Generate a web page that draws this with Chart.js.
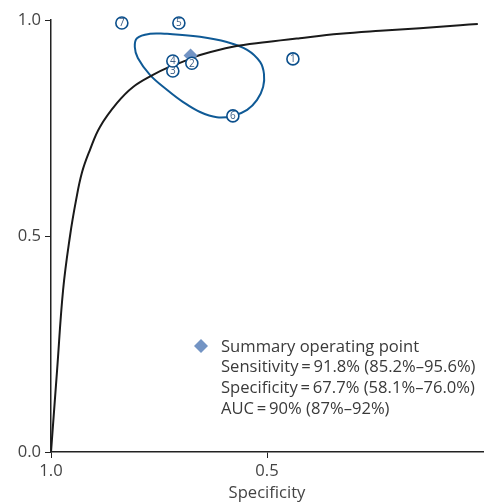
<!DOCTYPE html>
<html>
<head>
<meta charset="utf-8">
<script src="https://cdn.jsdelivr.net/npm/chart.js@4"></script>
<style>
  html, body { margin: 0; padding: 0; background: #fff; }
  canvas { display: block; }
</style>
</head>
<body>
<canvas id="sroc" width="492" height="503"></canvas>
<script>
// ===== Data =====
const studyIds = ["1", "2", "3", "4", "5", "6", "7"];
const studySpec = [0.440, 0.674, 0.718, 0.718, 0.704, 0.579, 0.836];
const studySens = [0.910, 0.900, 0.882, 0.905, 0.993, 0.778, 0.993];

const summarySpec = [0.677];
const summarySens = [0.918];

// SROC curve
const srocSpec = [1, 0.986, 0.972, 0.956, 0.942, 0.928, 0.910, 0.887, 0.847, 0.810, 0.764,
  0.731, 0.685, 0.655, 0.579, 0.5, 0.424, 0.331, 0.238, 0.146, 0.053, 0.012];
const srocSens = [0, 0.188, 0.375, 0.5, 0.583, 0.648, 0.699, 0.752, 0.808, 0.845, 0.873,
  0.889, 0.907, 0.919, 0.938, 0.949, 0.958, 0.968, 0.975, 0.981, 0.988, 0.991];

// 95% confidence region outline (closed loop, starts at its top edge)
const regionSpec = [0.731, 0.655, 0.593, 0.546, 0.516, 0.507, 0.509, 0.523,
  0.546, 0.579, 0.616, 0.655, 0.694, 0.731, 0.771, 0.799, 0.806, 0.801, 0.771, 0.731];
const regionSens = [0.968, 0.961, 0.949, 0.931, 0.903, 0.875, 0.845, 0.815,
  0.792, 0.778, 0.775, 0.787, 0.810, 0.838, 0.873, 0.912, 0.9375, 0.958, 0.968, 0.968];

const xTicks = [1, 0.5];
const yTicks = [0, 0.5, 1];

const noteLines = [
  "Summary operating point",
  "Sensitivity\u2009=\u200991.8% (85.2%\u201395.6%)",
  "Specificity\u2009=\u200967.7% (58.1%\u201376.0%)",
  "AUC\u2009=\u200990% (87%\u201392%)"
];

const toPts = (xs, ys) => xs.map((x, i) => ({ x: x, y: ys[i] }));

// ===== Plugins =====
const studyLabels = {
  id: "studyLabels",
  afterDatasetsDraw(chart) {
    const ctx = chart.ctx;
    const meta = chart.getDatasetMeta(0);
    ctx.save();
    ctx.font = "10px 'Open Sans'";
    ctx.fillStyle = "#3d5f86";
    ctx.textAlign = "center";
    ctx.textBaseline = "middle";
    meta.data.forEach((pt, i) => {
      ctx.fillText(studyIds[i], pt.x, pt.y + 0.5);
    });
    ctx.restore();
  }
};

const summaryNote = {
  id: "summaryNote",
  afterDraw(chart) {
    const ctx = chart.ctx;
    ctx.save();
    // diamond marker
    ctx.fillStyle = "#7394c4";
    ctx.beginPath();
    ctx.moveTo(201, 339);
    ctx.lineTo(208, 346);
    ctx.lineTo(201, 353);
    ctx.lineTo(194, 346);
    ctx.closePath();
    ctx.fill();
    ctx.font = "16.6px 'Open Sans'";
    ctx.fillStyle = "#3a3a3a";
    ctx.textBaseline = "middle";
    noteLines.forEach((line, i) => {
      ctx.fillText(line, 221, 347 + i * 20.7);
    });
    ctx.restore();
  }
};

// ===== Chart =====
const axisColor = "#222";
new Chart(document.getElementById("sroc"), {
  type: "scatter",
  data: {
    datasets: [
      {
        label: "Studies",
        data: toPts(studySpec, studySens),
        pointRadius: 6,
        pointBorderWidth: 1.6,
        pointBorderColor: "#0b4f8c",
        pointBackgroundColor: "#fff",
        clip: false,
        order: 0
      },
      {
        label: "Summary",
        data: toPts(summarySpec, summarySens),
        pointStyle: "rectRot",
        pointRadius: 7,
        pointBorderWidth: 0,
        pointBackgroundColor: "#7394c4",
        order: 1
      },
      {
        label: "SROC",
        data: toPts(srocSpec, srocSens),
        showLine: true,
        borderColor: "#1a1a1a",
        borderWidth: 2,
        pointRadius: 0,
        tension: 0.4,
        order: 2
      },
      {
        label: "Confidence region",
        data: toPts(regionSpec, regionSens),
        showLine: true,
        borderColor: "#0f5a96",
        borderWidth: 2,
        pointRadius: 0,
        tension: 0.4,
        order: 3
      }
    ]
  },
  options: {
    responsive: false,
    animation: false,
    devicePixelRatio: 1,
    layout: { padding: { top: 20, right: 9, left: 0, bottom: 0 } },
    plugins: {
      legend: { display: false },
      tooltip: { enabled: false }
    },
    scales: {
      x: {
        type: "linear",
        min: 0,
        max: 1,
        reverse: true,
        border: { display: true, color: axisColor, width: 1.5 },
        grid: { drawOnChartArea: false, drawTicks: true, tickLength: 6, tickColor: axisColor, tickWidth: 1 },
        afterBuildTicks: (scale) => { scale.ticks = xTicks.map(v => ({ value: v })); },
        afterFit: (scale) => { scale.height = 51; },
        ticks: {
          font: { family: "'Open Sans'", size: 16.6 },
          color: "#444",
          padding: 3,
          maxRotation: 0,
          callback: (v) => Number(v).toFixed(1)
        },
        title: {
          display: true,
          text: "Specificity",
          font: { family: "'Open Sans'", size: 16.6 },
          color: "#444",
          padding: { top: 1, bottom: 0 }
        }
      },
      y: {
        type: "linear",
        min: 0,
        max: 1,
        border: { display: true, color: axisColor, width: 1.5 },
        grid: { drawOnChartArea: false, drawTicks: true, tickLength: 6, tickColor: axisColor, tickWidth: 1 },
        afterBuildTicks: (scale) => { scale.ticks = yTicks.map(v => ({ value: v })); },
        afterFit: (scale) => { scale.width = 51; },
        ticks: {
          font: { family: "'Open Sans'", size: 16.6 },
          color: "#444",
          padding: 4,
          callback: (v) => Number(v).toFixed(1)
        }
      }
    }
  },
  plugins: [studyLabels, summaryNote]
});
</script>
</body>
</html>
